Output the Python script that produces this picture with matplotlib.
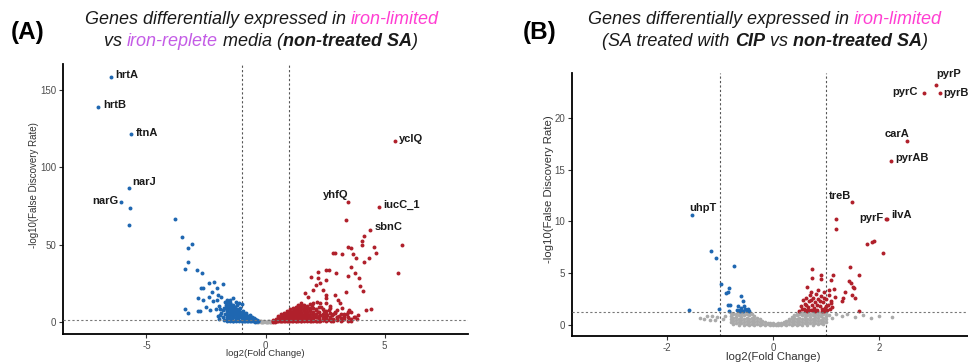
import numpy as np
import matplotlib
matplotlib.use("Agg")
import matplotlib.pyplot as plt

plt.rcParams['font.family'] = ['Liberation Sans', 'DejaVu Sans']
plt.rcParams['axes.unicode_minus'] = False

# ---------------- panel A data (log2 FC, -log10 FDR) ----------------
a_blue_x = [-6.49, -7.03, -5.65, -5.75, -6.05, -5.68, -5.73, -3.78, -3.51, -3.26, -3.10, -3.24,
            -3.38, -2.89, -2.68, -2.36, -2.15, -1.79, -2.72, -2.61, -2.26, -2.05, -2.85, -2.64,
            -2.38, -1.98, -1.87, -2.22, -2.05, -1.70, -1.49, -1.36, -2.50, -2.33, -3.38, -3.24,
            -2.82, -2.75, -2.08, -1.96, -1.77,
            -1.9, -1.85, -1.8, -1.75, -1.7, -1.65, -1.6, -1.6, -1.55, -1.5, -1.5, -1.45, -1.4,
            -1.4, -1.35, -1.3, -1.3, -1.25, -1.2, -1.2, -1.15, -1.1, -1.1, -1.05, -1.0, -1.0,
            -0.95, -0.95, -0.9, -0.9, -0.85, -0.8, -0.8, -0.75, -0.75, -0.7, -0.65, -0.65, -0.6,
            -0.6, -0.55, -0.5, -0.5, -0.45, -0.45, -0.4, -0.35, -0.35, -0.3, -0.3, -1.75, -1.55,
            -1.35, -1.2, -1.45, -1.65, -1.0, -1.1, -2.0, -1.95, -1.25, -1.6, -1.9,
            -1.6, -1.6, -1.6, -1.6, -1.6, -1.6, -1.6, -1.48, -1.48, -1.48, -1.48, -1.48, -1.48,
            -1.48, -1.36, -1.36, -1.36, -1.36, -1.36, -1.36, -1.24, -1.24, -1.24, -1.24, -1.24,
            -1.12, -1.12, -1.12, -1.12, -1.12, -1.0, -1.0, -1.0, -1.0, -0.88, -0.88, -0.88,
            -0.76, -0.76, -0.76, -0.64, -0.64, -0.52, -0.52, -0.42, -0.42, -0.34]
a_blue_y = [158.3, 138.7, 121.1, 86.3, 77.6, 73.4, 62.6, 66.5, 55.0, 47.7, 50.1, 38.7,
            34.4, 33.5, 31.6, 25.0, 25.8, 24.3, 21.9, 22.1, 19.6, 21.7, 15.5, 14.2,
            15.9, 17.6, 16.3, 13.3, 14.2, 13.1, 14.2, 15.3, 9.5, 7.7, 8.2, 5.6,
            7.3, 7.3, 8.2, 10.3, 7.7,
            4.5, 6.0, 3.0, 9.0, 5.0, 11.0, 2.5, 7.5, 4.0, 9.5, 12.0, 6.0, 2.0,
            8.0, 4.5, 10.0, 6.5, 2.5, 8.0, 4.5, 1.5, 6.0, 3.0, 9.0, 1.0, 4.5,
            7.0, 2.5, 5.5, 1.0, 3.5, 6.0, 2.0, 0.8, 4.0, 3.0, 1.5, 4.5, 2.5,
            0.6, 3.5, 1.5, 2.5, 0.8, 2.0, 1.5, 0.6, 1.2, 0.4, 0.9, 1.5, 1.5,
            1.0, 11.0, 10.5, 9.0, 11.5, 12.5, 4.0, 2.0, 13.0, 14.5, 8.5,
            1.0, 3.0, 5.0, 7.0, 9.0, 11.0, 13.0, 0.5, 2.5, 4.5, 6.5, 8.5, 10.5,
            12.0, 1.0, 3.0, 5.0, 7.0, 9.0, 11.0, 0.5, 2.5, 4.5, 6.5, 8.5,
            1.0, 3.0, 5.0, 7.0, 8.5, 0.5, 2.5, 4.5, 6.5, 1.0, 3.0, 5.0,
            0.5, 2.5, 4.0, 1.0, 3.0, 0.5, 2.0, 0.3, 1.5, 0.5]

a_red_x = [3.46, 4.75, 4.39, 5.44, 3.36, 4.15, 4.06, 4.06, 5.73, 3.46, 3.60, 2.93, 3.21, 3.67,
           4.57, 4.64, 3.81, 4.15, 4.36, 3.57, 3.74, 2.20, 2.55, 2.66, 2.97, 3.46, 3.92, 5.55,
           1.92, 2.20, 2.55, 3.95, 4.08, 3.36, 2.13, 2.27, 1.67, 2.41, 2.52, 2.90, 3.04, 3.11,
           2.55, 4.23, 4.44, 3.87, 2.83, 2.0, 1.8, 2.3, 2.7, 3.2, 3.5, 3.6, 3.3, 2.9, 2.6, 3.0, 3.7,
           0.3, 0.35, 0.4, 0.45, 0.5, 0.55, 0.6, 0.6, 0.65, 0.7, 0.7, 0.75, 0.8, 0.8, 0.85, 0.85,
           0.9, 0.95, 0.95, 1.0, 1.0, 1.05, 1.1, 1.1, 1.15, 1.2, 1.2, 1.25, 1.3, 1.3, 1.35, 1.4,
           1.4, 1.45, 1.5, 1.5, 1.55, 1.6, 1.6, 1.65, 1.7, 1.7, 1.75, 1.8, 1.8, 1.85, 1.9, 1.95,
           2.0, 2.0, 2.05, 2.1, 2.15, 2.2, 2.25, 2.3, 2.35, 2.4, 2.45, 2.5, 2.55, 2.6, 2.65, 2.7,
           2.8, 2.85, 2.9, 3.0, 3.1, 3.2, 3.3, 3.4, 3.5, 3.6, 3.75, 3.85, 1.9, 2.3, 2.75, 1.45,
           1.25, 2.55, 2.15, 1.05, 0.9,
           0.3, 0.3, 0.42, 0.42, 0.54, 0.54, 0.54, 0.66, 0.66, 0.66, 0.78, 0.78, 0.78, 0.78,
           0.9, 0.9, 0.9, 0.9, 1.02, 1.02, 1.02, 1.02, 1.02, 1.14, 1.14, 1.14, 1.14, 1.14,
           1.26, 1.26, 1.26, 1.26, 1.26, 1.26, 1.38, 1.38, 1.38, 1.38, 1.38, 1.38,
           1.5, 1.5, 1.5, 1.5, 1.5, 1.5, 1.5, 1.62, 1.62, 1.62, 1.62, 1.62, 1.62,
           1.74, 1.74, 1.74, 1.74, 1.74, 1.74, 1.86, 1.86, 1.86, 1.86, 1.86, 1.86,
           1.98, 1.98, 1.98, 1.98, 1.98, 1.98, 2.1, 2.1, 2.1, 2.1, 2.25, 2.25, 2.25, 2.25, 2.25,
           2.4, 2.4, 2.4, 2.4, 2.55, 2.55, 2.55, 2.55, 2.7, 2.7, 2.7, 2.7, 2.85, 2.85, 2.85,
           3.0, 3.0, 3.0, 3.15, 3.15, 3.15, 3.3, 3.3, 3.45, 3.45, 3.45, 3.6]
a_red_y = [77.4, 74.4, 59.2, 116.8, 65.8, 55.5, 52.5, 49.7, 49.7, 48.6, 47.5, 44.3, 43.9, 43.9,
           48.6, 44.3, 41.1, 38.9, 41.1, 35.7, 31.8, 32.5, 33.5, 33.5, 31.4, 29.7, 28.2, 31.8,
           28.8, 28.6, 27.1, 23.2, 20.0, 19.6, 23.9, 25.0, 18.9, 20.6, 17.4, 17.4, 14.2, 12.5,
           15.3, 7.7, 8.2, 4.5, 44.7, 20.5, 16.0, 12.0, 10.5, 9.0, 8.0, 6.5, 5.0, 6.0, 4.5, 3.5, 3.0,
           0.5, 1.0, 0.3, 1.5, 0.8, 2.0, 0.4, 1.3, 2.6, 0.9, 1.8, 3.2, 0.5, 2.3, 1.4, 4.0,
           3.0, 0.8, 2.0, 4.5, 1.2, 3.3, 0.6, 2.4, 5.2, 1.6, 3.8, 6.0, 0.9, 2.8, 4.6, 7.0,
           1.8, 3.5, 5.5, 0.8, 2.5, 8.0, 4.2, 1.4, 6.2, 3.0, 9.5, 1.2, 4.8, 7.5, 2.5, 11.0,
           5.5, 1.5, 3.5, 8.5, 1.0, 6.5, 2.8, 4.5, 10.0, 1.5, 7.0, 3.5, 5.0, 1.2, 8.0, 2.5,
           4.5, 1.2, 6.5, 2.2, 4.0, 1.5, 3.0, 5.5, 2.0, 1.0, 3.5, 1.8, 0.6, 0.7, 0.8, 9.5,
           8.5, 12.5, 13.0, 6.8, 5.6,
           0.3, 1.2, 0.5, 2.0, 0.5, 2.5, 4.0, 1.0, 3.0, 5.0, 0.5, 2.5, 4.5, 6.0,
           1.0, 3.0, 5.0, 7.0, 0.5, 2.5, 4.5, 6.5, 8.5, 1.0, 3.0, 5.0, 7.0, 9.0,
           0.5, 2.5, 4.5, 6.5, 8.5, 10.0, 1.0, 3.0, 5.0, 7.0, 9.0, 11.0,
           0.5, 2.5, 4.5, 6.5, 8.5, 10.5, 12.0, 1.0, 3.0, 5.0, 7.0, 9.0, 11.0,
           0.5, 2.5, 4.5, 6.5, 8.5, 10.5, 1.0, 3.0, 5.0, 7.0, 9.0, 11.5,
           0.5, 2.5, 4.5, 6.5, 9.0, 12.0, 1.0, 3.0, 5.5, 8.0, 0.8, 2.0, 4.0, 6.5, 9.5,
           1.5, 3.0, 5.5, 8.5, 0.8, 2.5, 4.0, 7.0, 1.2, 3.5, 6.0, 9.0, 0.8, 2.2, 5.0,
           1.5, 3.5, 7.5, 1.0, 2.5, 5.5, 1.8, 4.0, 1.0, 3.0, 6.5, 2.0]

a_grey_x = [-0.35, -0.3, -0.25, -0.2, -0.15, -0.1, -0.05, 0.0, 0.05, 0.1, 0.15, 0.2, 0.25, -0.2, 0.1]
a_grey_y = [0.2, 0.1, 0.5, 0.1, 0.3, 0.05, 0.4, 0.1, 0.3, 0.05, 0.5, 0.2, 0.1, 0.8, 0.7]

a_genes = ['hrtA', 'hrtB', 'ftnA', 'narJ', 'narG', 'yclQ', 'yhfQ', 'iucC_1', 'sbnC']
a_gene_x = [-6.49, -7.03, -5.65, -5.75, -6.05, 5.44, 3.46, 4.75, 4.39]
a_gene_y = [158.3, 138.7, 121.1, 86.3, 77.6, 116.8, 77.4, 74.4, 59.2]

# ---------------- panel B data ----------------
b_blue_x = [-1.54, -1.18, -1.07, -0.74, -0.99, -0.84, -0.86, -0.89, -0.61, -0.57, -0.86, -0.81,
            -1.58, -1.03, -0.83, -0.69, -0.66, -0.63, -0.60, -0.56, -0.53, -0.50, -0.47, -0.45,
            -0.62, -0.55]
b_blue_y = [10.6, 7.2, 6.5, 5.7, 4.0, 3.55, 3.2, 3.1, 2.8, 2.3, 1.95, 1.95,
            1.47, 1.6, 1.4, 1.45, 1.85, 1.5, 1.65, 1.4, 1.55, 1.45, 1.6, 1.35,
            1.35, 1.9]

b_red_x = [2.86, 3.09, 3.15, 2.53, 2.24, 1.50, 2.13, 2.15, 1.20, 1.19, 1.77, 1.88, 1.91, 2.08,
           1.46, 1.62, 0.74, 0.73, 0.90, 0.91, 1.14, 1.10, 1.47, 1.52, 1.53, 1.37, 1.49, 1.32,
           1.30, 1.55, 1.63, 0.65, 1.44,
           0.50, 0.53, 0.56, 0.58, 0.60, 0.62, 0.64, 0.66, 0.68, 0.70, 0.72, 0.74, 0.76, 0.78,
           0.80, 0.82, 0.84, 0.86, 0.88, 0.90, 0.92, 0.94, 0.96, 0.98, 1.00, 1.02, 1.04, 1.06,
           1.08, 1.10, 1.12, 1.15, 1.18, 1.05, 0.85, 0.72, 0.60, 0.96, 0.55, 0.79,
           0.67, 0.75, 0.83, 0.93, 1.01, 0.63, 0.71, 0.89, 0.97, 1.09]
b_red_y = [22.4, 23.1, 22.4, 17.75, 15.8, 11.9, 10.2, 10.2, 10.2, 9.26, 7.8, 7.98, 8.1, 7.0,
           5.6, 4.84, 5.38, 4.6, 4.84, 4.5, 4.84, 4.4, 4.1, 3.7, 3.6, 3.23, 2.9, 2.6,
           2.34, 2.6, 1.4, 3.7, 4.26,
           1.4, 1.9, 2.4, 1.6, 2.1, 2.6, 1.4, 1.8, 2.3, 2.9, 1.5, 2.0, 2.6, 1.7,
           2.2, 3.0, 1.5, 2.5, 1.9, 2.8, 1.4, 2.2, 3.2, 1.7, 2.5, 1.5, 2.0, 2.9,
           1.6, 2.3, 1.8, 3.5, 2.7, 3.4, 3.4, 3.2, 1.5, 1.35, 1.55, 1.35,
           1.5, 1.45, 2.0, 1.6, 1.9, 2.0, 2.45, 2.3, 2.65, 2.15]

b_grey_x = [-1.38, -1.30, -1.25, -1.20, -1.15, -1.10, -1.05, -0.95, -0.90,
            1.05, 1.12, 1.20, 1.30, 1.40, 1.55, 1.70, 1.85, 2.00, 2.25,
            -0.80, -0.80, -0.80, -0.80, -0.75, -0.75, -0.75, -0.75, -0.70, -0.70, -0.70, -0.70,
            -0.65, -0.65, -0.65, -0.65, -0.65, -0.60, -0.60, -0.60, -0.60,
            -0.55, -0.55, -0.55, -0.55, -0.55, -0.50, -0.50, -0.50, -0.50,
            -0.45, -0.45, -0.45, -0.45, -0.45, -0.40, -0.40, -0.40, -0.40,
            -0.35, -0.35, -0.35, -0.35, -0.30, -0.30, -0.30, -0.25, -0.25, -0.25,
            -0.20, -0.20, -0.15, -0.15, -0.10, -0.10, -0.05, -0.05, 0.00, 0.00, 0.05, 0.05,
            0.10, 0.10, 0.15, 0.15, 0.20, 0.20, 0.25, 0.25, 0.25, 0.30, 0.30, 0.30,
            0.35, 0.35, 0.35, 0.35, 0.40, 0.40, 0.40, 0.40, 0.45, 0.45, 0.45, 0.45, 0.45,
            0.50, 0.50, 0.50, 0.50, 0.50, 0.55, 0.55, 0.55, 0.55, 0.55, 0.60, 0.60, 0.60, 0.60,
            0.65, 0.65, 0.65, 0.65, 0.65, 0.70, 0.70, 0.70, 0.70, 0.75, 0.75, 0.75, 0.75, 0.75,
            0.80, 0.80, 0.80, 0.80, 0.85, 0.85, 0.85, 0.85, 0.85, 0.90, 0.90, 0.90, 0.90,
            0.95, 0.95, 0.95, 0.95, 1.00, 1.00, 1.00, 1.00]
b_grey_y = [0.70, 0.60, 0.85, 0.55, 0.90, 0.50, 0.80, 0.60, 0.90,
            1.00, 0.75, 1.10, 0.90, 1.05, 0.80, 0.95, 0.70, 0.85, 0.80,
            0.30, 0.60, 0.90, 1.20, 0.10, 0.45, 0.75, 1.05, 0.20, 0.50, 0.80, 1.10,
            0.05, 0.35, 0.65, 0.95, 1.25, 0.20, 0.50, 0.80, 1.10,
            0.05, 0.35, 0.65, 0.95, 1.25, 0.15, 0.45, 0.75, 1.05,
            0.05, 0.35, 0.65, 0.95, 1.20, 0.15, 0.45, 0.75, 1.05,
            0.05, 0.30, 0.60, 0.90, 0.15, 0.45, 0.75, 0.05, 0.30, 0.60,
            0.10, 0.40, 0.05, 0.30, 0.10, 0.25, 0.00, 0.20, 0.05, 0.20, 0.00, 0.15,
            0.05, 0.20, 0.00, 0.25, 0.10, 0.35, 0.05, 0.30, 0.45, 0.15, 0.40, 0.65,
            0.05, 0.30, 0.60, 0.80, 0.15, 0.45, 0.75, 1.00, 0.05, 0.35, 0.65, 0.95, 1.10,
            0.15, 0.45, 0.75, 1.05, 1.25, 0.05, 0.35, 0.65, 0.95, 1.20, 0.20, 0.50, 0.80, 1.10,
            0.05, 0.35, 0.65, 0.95, 1.25, 0.20, 0.50, 0.80, 1.10, 0.05, 0.35, 0.65, 0.95, 1.25,
            0.20, 0.50, 0.80, 1.10, 0.10, 0.40, 0.70, 1.00, 1.25, 0.25, 0.55, 0.85, 1.15,
            0.15, 0.45, 0.75, 1.05, 0.30, 0.60, 0.90, 1.20]

b_genes = ['pyrC', 'pyrP', 'pyrB', 'carA', 'pyrAB', 'treB', 'pyrF', 'ilvA', 'uhpT']
b_gene_x = [2.86, 3.09, 3.15, 2.53, 2.24, 1.50, 2.13, 2.15, -1.54]
b_gene_y = [22.4, 23.1, 22.4, 17.75, 15.8, 11.9, 10.2, 10.2, 10.6]

BLUE = '#1F67B1'
RED = '#B0202B'
GREY = '#AAAAAA'
PINK = '#FF3FD2'
LILAC = '#C45CE6'
INK = '#1A1A1A'

W, H = 968, 362
fig = plt.figure(figsize=(W / 100, H / 100), dpi=100)


def px_axes(l, t, r, b):
    return fig.add_axes([l / W, 1 - b / H, (r - l) / W, (b - t) / H])


def style_axes(ax, fs):
    for s in ['top', 'right']:
        ax.spines[s].set_visible(False)
    for s in ['left', 'bottom']:
        ax.spines[s].set_linewidth(1.3)
        ax.spines[s].set_color('black')
    ax.tick_params(length=3, width=0.8, color='#333333', labelcolor='#4D4D4D', labelsize=fs, pad=2)
    ax.axvline(-1, color='#555555', lw=0.8, ls=(0, (2, 2)), zorder=1)
    ax.axvline(1, color='#555555', lw=0.8, ls=(0, (2, 2)), zorder=1)
    ax.axhline(-np.log10(0.05), color='#777777', lw=0.8, ls=(0, (2, 2)), zorder=4)


def rich_line(cx, cy, parts, size):
    # draw a centred line of text made of differently styled pieces
    r = fig.canvas.get_renderer()
    widths = []
    for s, kw in parts:
        probe = fig.text(0, 0, '|' + s + '|', fontsize=size, **kw)
        bar = fig.text(0, 0, '||', fontsize=size, **kw)
        widths.append(probe.get_window_extent(r).width - bar.get_window_extent(r).width)
        probe.remove()
        bar.remove()
    x = cx - sum(widths) / 2
    for (s, kw), w in zip(parts, widths):
        fig.text(x / W, 1 - cy / H, s, fontsize=size, ha='left', va='center', **kw)
        x += w


def label_genes(ax, names, xs, ys, offsets, fs):
    for n, x, y in zip(names, xs, ys):
        dx, dy, ha = offsets[n]
        ax.annotate(n, (x, y), xytext=(dx, dy), textcoords='offset pixels', ha=ha, va='center',
                    fontsize=fs, fontweight='bold', color=INK, zorder=5)


# ---------------- panel A ----------------
axA = px_axes(63, 64, 468, 334)
axA.scatter(a_grey_x, a_grey_y, s=8, c=GREY, linewidths=0, zorder=2)
axA.scatter(a_blue_x, a_blue_y, s=8, c=BLUE, linewidths=0, zorder=3)
axA.scatter(a_red_x, a_red_y, s=8, c=RED, linewidths=0, zorder=3)
axA.set_xlim(-8.5, 8.5)
axA.set_ylim(-7.7, 166.5)
axA.set_xticks([-5, 0, 5])
axA.set_yticks([0, 50, 100, 150])
style_axes(axA, 7)
axA.set_xlabel('log2(Fold Change)', fontsize=6.8, color='#333333')
axA.set_ylabel('-log10(False Discovery Rate)', fontsize=7, color='#333333')
axA.xaxis.set_label_coords(0.5, -0.074)
axA.xaxis.label.set_va('center')
axA.yaxis.set_label_coords(-0.072, 0.55)
axA.yaxis.label.set_va('center')
offA = {'hrtA': (4, 2, 'left'), 'hrtB': (5, 2, 'left'), 'ftnA': (5, 1, 'left'),
        'narJ': (4, 6, 'left'), 'narG': (-3, 1, 'right'), 'yclQ': (4, 2, 'left'),
        'yhfQ': (1, 7, 'right'), 'iucC_1': (5, 2, 'left'), 'sbnC': (5, 3, 'left')}
label_genes(axA, a_genes, a_gene_x, a_gene_y, offA, 8)

# ---------------- panel B ----------------
axB = px_axes(572, 73, 974, 336)
axB.scatter(b_grey_x, b_grey_y, s=7, c=GREY, linewidths=0, zorder=2)
axB.scatter(b_blue_x, b_blue_y, s=8, c=BLUE, linewidths=0, zorder=3)
axB.scatter(b_red_x, b_red_y, s=8, c=RED, linewidths=0, zorder=3)
axB.set_xlim(-3.8, 3.8)
axB.set_ylim(-1.03, 24.3)
axB.set_xticks([-2, 0, 2])
axB.set_yticks([0, 5, 10, 15, 20])
style_axes(axB, 7)
axB.set_xlabel('log2(Fold Change)', fontsize=8.2, color='#333333')
axB.set_ylabel('-log10(False Discovery Rate)', fontsize=8.2, color='#333333')
axB.xaxis.set_label_coords(0.5, -0.079)
axB.xaxis.label.set_va('center')
axB.yaxis.set_label_coords(-0.057, 0.56)
axB.yaxis.label.set_va('center')
offB = {'pyrC': (-7, 1, 'right'), 'pyrP': (0, 11, 'left'), 'pyrB': (4, 0, 'left'),
        'carA': (3, 7, 'right'), 'pyrAB': (4, 3, 'left'), 'treB': (-1, 6, 'right'),
        'pyrF': (-2, 1, 'right'), 'ilvA': (5, 4, 'left'), 'uhpT': (-2, 7, 'left')}
label_genes(axB, b_genes, b_gene_x, b_gene_y, offB, 8)

# ---------------- titles ----------------
it = dict(style='italic', color=INK)
itb = dict(style='italic', weight='bold', color=INK)
tsize = 13
rich_line(262, 20, [('Genes differentially expressed in ', it),
                    ('iron-limited', dict(style='italic', color=PINK))], tsize)
rich_line(261, 42, [('vs ', it), ('iron-replete', dict(style='italic', color=LILAC)),
                    (' media (', it), ('non-treated SA', itb), (')', it)], tsize)
rich_line(765, 20, [('Genes differentially expressed in ', it),
                    ('iron-limited', dict(style='italic', color=PINK))], tsize)
rich_line(765, 42, [('(SA treated with ', it), ('CIP', itb), (' vs ', it),
                    ('non-treated SA', itb), (')', it)], tsize)

fig.text(27.5 / W, 1 - 32 / H, '(A)', fontsize=17.5, fontweight='bold', ha='center', va='center', color='black')
fig.text(540 / W, 1 - 32 / H, '(B)', fontsize=17.5, fontweight='bold', ha='center', va='center', color='black')

fig.savefig('out.png', dpi=100)
